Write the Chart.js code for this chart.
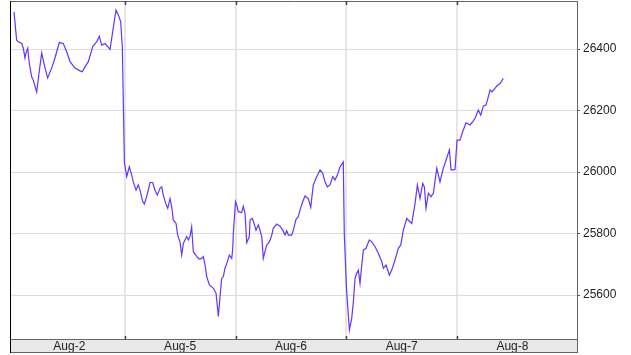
<!DOCTYPE html>
<html>
<head>
<meta charset="utf-8">
<script src="https://cdn.jsdelivr.net/npm/chart.js@4"></script>
<style>
  html, body { margin: 0; padding: 0; background: #fff; }
</style>
</head>
<body>
<canvas id="chart" width="631" height="355"></canvas>
<script>
var dayLabels = ["Aug-2", "Aug-5", "Aug-6", "Aug-7", "Aug-8"];
var yTicks = [25600, 25800, 26000, 26200, 26400];

// time inside each session (0 = open, 1 = close) and the index level
var aug2Times = [0.00, 0.024, 0.039, 0.070, 0.084, 0.099, 0.108, 0.124, 0.138, 0.160, 0.174, 0.205, 0.226, 0.250, 0.274, 0.304, 0.340, 0.370, 0.409, 0.445, 0.476, 0.506, 0.551, 0.596, 0.617, 0.641, 0.671, 0.711, 0.747, 0.770, 0.792, 0.822, 0.867, 0.891, 0.921, 0.942, 0.963, 0.978, 0.997];
var aug2Prices = [26521, 26429, 26424, 26418, 26403, 26371, 26387, 26403, 26354, 26309, 26299, 26260, 26322, 26387, 26348, 26306, 26338, 26371, 26421, 26418, 26391, 26359, 26338, 26329, 26326, 26342, 26359, 26408, 26424, 26442, 26413, 26418, 26399, 26456, 26527, 26511, 26489, 26408, 26030];

var aug5Times = [0.018, 0.041, 0.063, 0.077, 0.102, 0.122, 0.138, 0.162, 0.177, 0.198, 0.228, 0.252, 0.273, 0.294, 0.318, 0.334, 0.348, 0.370, 0.388, 0.409, 0.424, 0.438, 0.463, 0.478, 0.499, 0.514, 0.529, 0.544, 0.559, 0.574, 0.589, 0.604, 0.619, 0.650, 0.673, 0.695, 0.709, 0.725, 0.740, 0.764, 0.800, 0.824, 0.845, 0.860, 0.875, 0.890, 0.905, 0.921, 0.944, 0.966, 0.975, 0.980];
var aug5Prices = [25985, 26017, 25990, 25968, 25941, 25958, 25941, 25904, 25896, 25920, 25966, 25966, 25941, 25925, 25947, 25952, 25925, 25898, 25882, 25914, 25887, 25844, 25833, 25795, 25773, 25730, 25768, 25779, 25790, 25779, 25790, 25822, 25741, 25725, 25717, 25719, 25725, 25698, 25660, 25633, 25622, 25606, 25530, 25594, 25654, 25660, 25687, 25703, 25730, 25719, 25752, 25800];

var aug6Times = [0.000, 0.011, 0.025, 0.056, 0.070, 0.086, 0.101, 0.125, 0.131, 0.152, 0.167, 0.185, 0.206, 0.221, 0.237, 0.251, 0.266, 0.282, 0.296, 0.312, 0.327, 0.341, 0.372, 0.402, 0.426, 0.447, 0.462, 0.477, 0.507, 0.522, 0.546, 0.567, 0.582, 0.607, 0.628, 0.657, 0.679, 0.702, 0.727, 0.763, 0.787, 0.808, 0.829, 0.853, 0.878, 0.898, 0.919, 0.944, 0.973, 0.982];
var aug6Prices = [25904, 25893, 25871, 25868, 25889, 25866, 25770, 25790, 25844, 25849, 25833, 25811, 25828, 25811, 25790, 25719, 25741, 25763, 25768, 25779, 25795, 25817, 25831, 25824, 25811, 25795, 25809, 25795, 25795, 25811, 25846, 25855, 25876, 25904, 25922, 25914, 25885, 25958, 25980, 26007, 25996, 25968, 25952, 25958, 25985, 25974, 25990, 26017, 26033, 25800];

var aug7Times = [0.002, 0.028, 0.049, 0.064, 0.079, 0.094, 0.109, 0.124, 0.140, 0.154, 0.178, 0.208, 0.230, 0.260, 0.289, 0.320, 0.335, 0.359, 0.389, 0.410, 0.440, 0.470, 0.492, 0.515, 0.546, 0.591, 0.621, 0.642, 0.666, 0.690, 0.705, 0.720, 0.741, 0.765, 0.786, 0.817, 0.846, 0.876, 0.901, 0.931, 0.946, 0.967, 0.982];
var aug7Prices = [25620, 25486, 25524, 25578, 25654, 25671, 25681, 25638, 25698, 25746, 25752, 25779, 25773, 25757, 25736, 25709, 25687, 25698, 25665, 25681, 25714, 25752, 25763, 25811, 25849, 25833, 25898, 25958, 25914, 25963, 25952, 25882, 25931, 25920, 25931, 26012, 25968, 26012, 26039, 26072, 26007, 26007, 26009];

var aug8Times = [0.000, 0.027, 0.051, 0.081, 0.117, 0.142, 0.163, 0.192, 0.214, 0.238, 0.262, 0.274, 0.298, 0.313, 0.343, 0.358, 0.388, 0.418];
var aug8Prices = [26104, 26104, 26131, 26160, 26153, 26164, 26175, 26202, 26185, 26215, 26218, 26234, 26267, 26261, 26272, 26280, 26288, 26305];

var dayTimes = [aug2Times, aug5Times, aug6Times, aug7Times, aug8Times];
var dayPrices = [aug2Prices, aug5Prices, aug6Prices, aug7Prices, aug8Prices];

var points = [];
for (let d = 0; d < dayTimes.length; d++) {
    for (let i = 0; i < dayTimes[d].length; i++) {
        points.push({ x: d + dayTimes[d][i], y: dayPrices[d][i] });
    }
}

// frame round the plot and the little day marks
var frame = {
    id: "frame",
    afterDraw(chart) {
        var c = chart.ctx;
        var a = chart.chartArea;
        var xs = chart.scales.x;
        c.save();
        c.lineWidth = 1;
        c.strokeStyle = "#666";
        c.beginPath();
        c.moveTo(a.left, a.top - 0.5); c.lineTo(a.right + 1, a.top - 0.5);
        c.moveTo(a.right + 0.5, a.top - 1); c.lineTo(a.right + 0.5, xs.bottom);
        c.moveTo(a.left, a.bottom + 0.5); c.lineTo(a.right, a.bottom + 0.5);
        c.moveTo(a.left, xs.bottom - 0.5); c.lineTo(a.right, xs.bottom - 0.5);
        c.stroke();
        c.strokeStyle = "#000";
        c.beginPath();
        c.moveTo(a.left - 0.5, a.top - 1); c.lineTo(a.left - 0.5, xs.bottom);
        c.stroke();
        c.strokeStyle = "#444";
        c.lineWidth = 1.5;
        c.beginPath();
        for (let d = 1; d < dayLabels.length; d++) {
            var px = Math.round(xs.getPixelForValue(d)) + 0.5;
            c.moveTo(px, a.top - 1); c.lineTo(px, a.top + 3);
            c.moveTo(px, a.bottom - 3); c.lineTo(px, a.bottom);
        }
        c.stroke();
        c.restore();
    }
};

new Chart(document.getElementById("chart").getContext("2d"), {
    type: "line",
    data: {
        datasets: [{
            data: points,
            borderColor: "#6633ff",
            borderWidth: 1.2,
            pointRadius: 0,
            tension: 0
        }]
    },
    options: {
        responsive: false,
        animation: false,
        layout: { autoPadding: false, padding: { left: 11, top: 2, right: 0, bottom: 2 } },
        plugins: {
            legend: { display: false },
            tooltip: { enabled: false }
        },
        scales: {
            x: {
                type: "linear",
                min: -0.027,
                max: 5.083,
                backgroundColor: "#e8e8e8",
                afterBuildTicks(scale) {
                    var t = [];
                    for (let d = 0; d < dayLabels.length; d++) {
                        t.push({ value: d + 0.5 });
                        if (d < dayLabels.length - 1) t.push({ value: d + 1 });
                    }
                    scale.ticks = t;
                },
                afterFit(scale) {
                    scale.height = 14;
                    scale.paddingLeft = 0;
                    scale.paddingRight = 0;
                },
                grid: {
                    drawTicks: false,
                    color: (ctx) => (ctx.tick && ctx.tick.value % 1 === 0) ? "#e6e6e6" : "rgba(0,0,0,0)",
                    lineWidth: 2
                },
                border: { display: false },
                ticks: {
                    autoSkip: false,
                    maxRotation: 0,
                    padding: 1,
                    color: "#222",
                    font: { family: "Liberation Sans", size: 12, lineHeight: 1.1 },
                    callback: (v) => (v % 1 !== 0) ? dayLabels[Math.floor(v)] : ""
                }
            },
            y: {
                position: "right",
                min: 25457,
                max: 26553,
                afterBuildTicks(scale) {
                    scale.ticks = yTicks.map((v) => ({ value: v }));
                },
                afterFit(scale) {
                    scale.width = 54;
                    scale.paddingTop = 0;
                    scale.paddingBottom = 0;
                },
                grid: {
                    color: "#dcdcdc",
                    lineWidth: 1,
                    tickColor: "#555",
                    tickLength: 3
                },
                border: { display: false },
                ticks: {
                    padding: 3,
                    color: "#222",
                    font: { family: "Liberation Sans", size: 12 },
                    callback: (v) => String(v)
                }
            }
        }
    },
    plugins: [frame]
});
</script>
</body>
</html>
